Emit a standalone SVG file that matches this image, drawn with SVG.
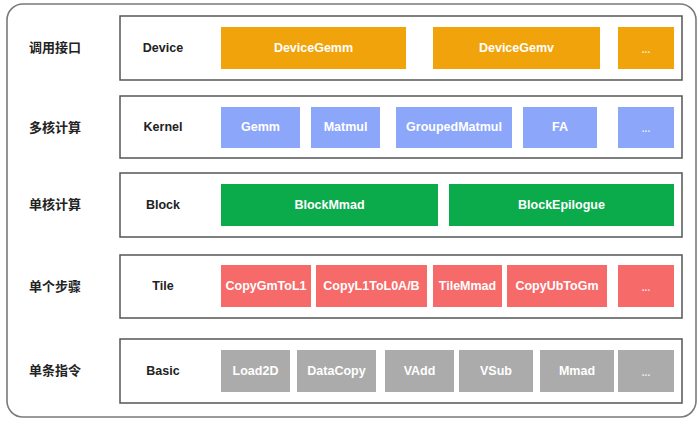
<svg xmlns="http://www.w3.org/2000/svg" width="700" height="424" viewBox="0 0 700 424">
<style>
.outer{fill:#fff;stroke:#7a7a7a;stroke-width:1.6}
.row{fill:#fff;stroke:#555;stroke-width:1.5}
.cn{font-family:"Noto Sans CJK SC","Liberation Sans",sans-serif;font-weight:bold;font-size:13px;fill:#222;text-anchor:middle;dominant-baseline:central}
.en{font-family:"Liberation Sans",Arial,sans-serif;font-weight:bold;font-size:12.5px;fill:#222;text-anchor:middle;dominant-baseline:central}
.bt{font-family:"Liberation Sans",Arial,sans-serif;font-weight:bold;font-size:12.5px;fill:#fff;text-anchor:middle;dominant-baseline:central}
.dots{font-family:"Liberation Sans",Arial,sans-serif;font-weight:bold;font-size:10px;fill:#fff;fill-opacity:0.8;text-anchor:middle;dominant-baseline:central}
.o{fill:#F1A30B}
.b{fill:#8CA6FA}
.g{fill:#0BAA4B}
.r{fill:#F76A6A}
.y{fill:#ABABAB}
</style>
<rect class="outer" x="7" y="4" width="689" height="413" rx="16"/>
<g id="layer-device">
<rect class="row" x="120" y="16" width="562" height="64"/>
<text class="cn" x="55" y="46.5">调用接口</text>
<text class="en" x="163" y="47.5">Device</text>
<g id="DeviceGemm"><rect class="o" x="221" y="27" width="185" height="42"/><text class="bt" x="313.5" y="47.5">DeviceGemm</text></g>
<g id="DeviceGemv"><rect class="o" x="433" y="27" width="167" height="42"/><text class="bt" x="516.5" y="47.5">DeviceGemv</text></g>
<g id="DeviceMore"><rect class="o" x="618" y="27" width="56" height="42"/><text class="dots" x="646" y="49">...</text></g>
</g>
<g id="layer-kernel">
<rect class="row" x="120" y="96" width="562" height="62"/>
<text class="cn" x="55" y="126">多核计算</text>
<text class="en" x="163" y="127">Kernel</text>
<g id="Gemm"><rect class="b" x="221" y="107" width="79" height="41"/><text class="bt" x="260.5" y="127">Gemm</text></g>
<g id="Matmul"><rect class="b" x="311" y="107" width="69" height="41"/><text class="bt" x="345.5" y="127">Matmul</text></g>
<g id="GroupedMatmul"><rect class="b" x="396" y="107" width="116" height="41"/><text class="bt" x="454" y="127">GroupedMatmul</text></g>
<g id="FA"><rect class="b" x="523" y="107" width="74" height="41"/><text class="bt" x="560" y="127">FA</text></g>
<g id="KernelMore"><rect class="b" x="618" y="107" width="56" height="41"/><text class="dots" x="646" y="128.5">...</text></g>
</g>
<g id="layer-block">
<rect class="row" x="120" y="173" width="562" height="64"/>
<text class="cn" x="55" y="203.5">单核计算</text>
<text class="en" x="163" y="204.5">Block</text>
<g id="BlockMmad"><rect class="g" x="221" y="184" width="217" height="42"/><text class="bt" x="329.5" y="204.5">BlockMmad</text></g>
<g id="BlockEpilogue"><rect class="g" x="449" y="184" width="225" height="42"/><text class="bt" x="561.5" y="204.5">BlockEpilogue</text></g>
</g>
<g id="layer-tile">
<rect class="row" x="120" y="255" width="562" height="63"/>
<text class="cn" x="55" y="285">单个步骤</text>
<text class="en" x="163" y="285.5">Tile</text>
<g id="CopyGmToL1"><rect class="r" x="221" y="265" width="90" height="42"/><text class="bt" x="266" y="285.5">CopyGmToL1</text></g>
<g id="CopyL1ToL0AB"><rect class="r" x="316" y="265" width="111" height="42"/><text class="bt" x="371.5" y="285.5">CopyL1ToL0A/B</text></g>
<g id="TileMmad"><rect class="r" x="433" y="265" width="69" height="42"/><text class="bt" x="467.5" y="285.5">TileMmad</text></g>
<g id="CopyUbToGm"><rect class="r" x="507" y="265" width="100" height="42"/><text class="bt" x="557" y="285.5">CopyUbToGm</text></g>
<g id="TileMore"><rect class="r" x="618" y="265" width="56" height="42"/><text class="dots" x="646" y="287">...</text></g>
</g>
<g id="layer-basic">
<rect class="row" x="120" y="339" width="562" height="64"/>
<text class="cn" x="55" y="369.5">单条指令</text>
<text class="en" x="163" y="370.5">Basic</text>
<g id="Load2D"><rect class="y" x="221" y="350" width="69" height="42"/><text class="bt" x="255.5" y="370.5">Load2D</text></g>
<g id="DataCopy"><rect class="y" x="297" y="350" width="79" height="42"/><text class="bt" x="336.5" y="370.5">DataCopy</text></g>
<g id="VAdd"><rect class="y" x="385" y="350" width="69" height="42"/><text class="bt" x="419.5" y="370.5">VAdd</text></g>
<g id="VSub"><rect class="y" x="459" y="350" width="74" height="42"/><text class="bt" x="496" y="370.5">VSub</text></g>
<g id="Mmad"><rect class="y" x="540" y="350" width="74" height="42"/><text class="bt" x="577" y="370.5">Mmad</text></g>
<g id="BasicMore"><rect class="y" x="618" y="350" width="56" height="42"/><text class="dots" x="646" y="372">...</text></g>
</g>
<g id="connectors"/>
</svg>
